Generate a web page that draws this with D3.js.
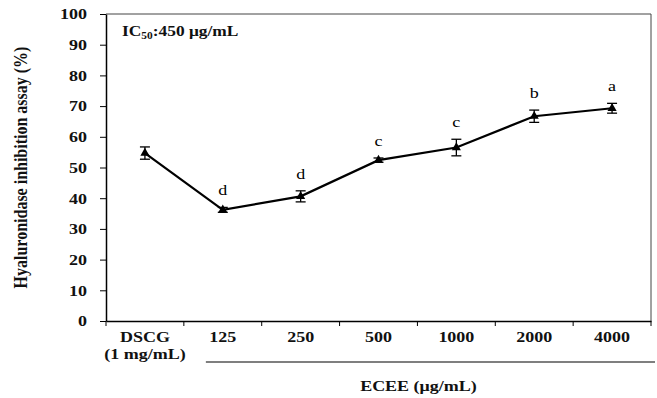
<!DOCTYPE html>
<html>
<head>
<meta charset="utf-8">
<script src="https://cdn.jsdelivr.net/npm/d3@7"></script>
<style>
  body { margin: 0; background: #fff; }
  svg { display: block; font-family: "Liberation Serif", "Times New Roman", serif; }
</style>
</head>
<body>
<script>
const categories = ["DSCG", "125", "250", "500", "1000", "2000", "4000"];
const inhibition = [54.7, 36.2, 40.6, 52.4, 56.5, 66.7, 69.3];
const errors = [2.0, 0.8, 1.8, 0.7, 2.7, 2.0, 1.6];
const letters = ["", "d", "d", "c", "c", "b", "a"];
const yTicks = [0, 10, 20, 30, 40, 50, 60, 70, 80, 90, 100];

const width = 657;
const height = 398;
const marginTop = 14;
const marginRight = 6;
const marginBottom = 77;
const marginLeft = 106;
const sx = 1.2; // the original figure's text is stretched horizontally

const svg = d3.select("body").append("svg")
    .attr("width", width)
    .attr("height", height)
    .attr("viewBox", [0, 0, width, height]);

const x = d3.scaleBand()
    .domain(categories)
    .range([marginLeft, width - marginRight])
    .padding(0);

const y = d3.scaleLinear()
    .domain([0, 100])
    .range([height - marginBottom, marginTop]);

const cx = d => x(d) + x.bandwidth() / 2;

// frame (top + right)
svg.append("path")
    .attr("fill", "none")
    .attr("stroke", "#444")
    .attr("stroke-width", 1)
    .attr("d", `M${marginLeft},${y(100)}H${width - marginRight}V${y(0)}`);

// y axis
const yAxis = svg.append("g")
    .attr("transform", `translate(${marginLeft},0)`)
    .call(d3.axisLeft(y).tickValues(yTicks).tickSize(6).tickSizeOuter(0));
yAxis.select(".domain").attr("stroke", "#000").attr("stroke-width", 1.5);
yAxis.selectAll(".tick line").attr("stroke", "#000");
yAxis.selectAll("text")
    .attr("x", -19 / sx)
    .attr("transform", `scale(${sx},1)`)
    .attr("font-family", "Liberation Serif, serif")
    .attr("font-weight", "bold")
    .attr("font-size", 15)
    .attr("fill", "#111");

// x axis
const xAxis = svg.append("g")
    .attr("transform", `translate(0,${y(0)})`)
    .call(d3.axisBottom(x).tickSize(0).tickPadding(10).tickSizeOuter(0));
xAxis.select(".domain").attr("stroke", "#000").attr("stroke-width", 1.5);
xAxis.selectAll("text")
    .attr("transform", `scale(${sx},1)`)
    .attr("font-family", "Liberation Serif, serif")
    .attr("font-weight", "bold")
    .attr("font-size", 15)
    .attr("fill", "#111")
    .attr("dy", "0.71em");
xAxis.selectAll(".tick")
    .filter(d => d === "DSCG")
    .append("text")
    .attr("transform", `scale(${sx},1)`)
    .attr("y", 27)
    .attr("dy", "0.71em")
    .attr("fill", "#111")
    .attr("text-anchor", "middle")
    .attr("font-family", "Liberation Serif, serif")
    .attr("font-weight", "bold")
    .attr("font-size", 15)
    .text("(1 mg/mL)");

// boundary ticks between bands
const bounds = categories.map(d => x(d)).concat([x.range()[1]]);
xAxis.selectAll(".bound")
    .data(bounds)
    .join("line")
    .attr("class", "bound")
    .attr("x1", d => d).attr("x2", d => d)
    .attr("y1", 0).attr("y2", 5)
    .attr("stroke", "#000");

// ECEE bracket line
const bx0 = x("125") + 22;
svg.append("line")
    .attr("x1", bx0)
    .attr("x2", width - 2)
    .attr("y1", y(0) + 41)
    .attr("y2", y(0) + 41)
    .attr("stroke", "#000")
    .attr("stroke-width", 1.2);

svg.append("text")
    .attr("transform", `translate(${(bx0 + width) / 2 - 13},391) scale(${sx},1)`)
    .attr("text-anchor", "middle")
    .attr("font-weight", "bold")
    .attr("font-size", 15)
    .attr("fill", "#111")
    .text("ECEE (μg/mL)");

// y title
svg.append("text")
    .attr("transform", `translate(27,${(y(0) + y(100)) / 2}) scale(${sx},1) rotate(-90)`)
    .attr("text-anchor", "middle")
    .attr("font-weight", "bold")
    .attr("font-size", 16)
    .attr("fill", "#111")
    .text("Hyaluronidase inhibition assay (%)");

// IC50 note
const ic = svg.append("text")
    .attr("transform", `translate(${marginLeft + 16},36) scale(${sx},1)`)
    .attr("font-weight", "bold")
    .attr("font-size", 14.5)
    .attr("fill", "#111");
ic.append("tspan").text("IC");
ic.append("tspan").attr("font-size", 9.5).attr("dy", 3).text("50");
ic.append("tspan").attr("dy", -3).text(":450 μg/mL");

const data = categories.map((c, i) => ({ c, v: inhibition[i], e: errors[i], l: letters[i] }));

// line
svg.append("path")
    .datum(data)
    .attr("fill", "none")
    .attr("stroke", "#000")
    .attr("stroke-width", 2.2)
    .attr("d", d3.line().x(d => cx(d.c)).y(d => y(d.v)));

// error bars
const eb = svg.append("g").attr("stroke", "#000").attr("stroke-width", 1.3);
eb.selectAll(".v").data(data).join("line")
    .attr("x1", d => cx(d.c)).attr("x2", d => cx(d.c))
    .attr("y1", d => y(d.v - d.e)).attr("y2", d => y(d.v + d.e));
eb.selectAll(".t").data(data).join("line")
    .attr("x1", d => cx(d.c) - 5).attr("x2", d => cx(d.c) + 5)
    .attr("y1", d => y(d.v + d.e)).attr("y2", d => y(d.v + d.e));
eb.selectAll(".b").data(data).join("line")
    .attr("x1", d => cx(d.c) - 5).attr("x2", d => cx(d.c) + 5)
    .attr("y1", d => y(d.v - d.e)).attr("y2", d => y(d.v - d.e));

// markers
svg.append("g").selectAll("path").data(data).join("path")
    .attr("transform", d => `translate(${cx(d.c)},${y(d.v)})`)
    .attr("d", d3.symbol(d3.symbolTriangle, 36))
    .attr("fill", "#000");

// significance letters
svg.append("g").selectAll("text").data(data).join("text")
    .attr("transform", d => `translate(${cx(d.c)},${y(d.v + d.e) - 12}) scale(${sx},1)`)
    .attr("text-anchor", "middle")
    .attr("font-size", 15)
    .attr("fill", "#000")
    .text(d => d.l);
</script>
</body>
</html>
